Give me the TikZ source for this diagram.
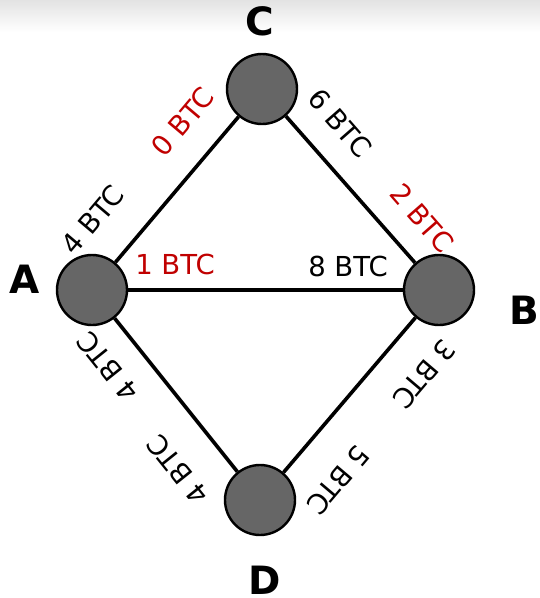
\documentclass[tikz,border=0pt]{standalone}
\usepackage{fontspec}
\setmainfont{DejaVu Sans}
\newfontfamily\heavyfont{DejaVu Sans}[BoldFont={DejaVu Sans Bold}]
\definecolor{nodegray}{HTML}{666666}
\definecolor{btcred}{HTML}{C00000}
\begin{document}
\begin{tikzpicture}[x=1pt,y=-1pt,
  peer/.style={circle,draw=black,line width=2.4pt,fill=nodegray,minimum size=70pt,inner sep=0pt},
  chan/.style={line width=3.6pt,black},
  amt/.style={font=\fontsize{27.5}{30}\selectfont,inner sep=0pt,text=black},
  amtred/.style={amt,text=btcred},
  peername/.style={font=\heavyfont\bfseries\fontsize{39}{40}\selectfont,inner sep=0pt}]
\useasboundingbox (0,0) rectangle (540,598);
\shade[top color=gray!22,bottom color=white] (0,0) rectangle (540,32);
\node[peer] (A) at (92,290) {};
\node[peer] (C) at (262,89) {};
\node[peer] (B) at (439,290) {};
\node[peer] (D) at (260,500) {};
\draw[chan] (A) -- (C);
\draw[chan] (C) -- (B);
\draw[chan] (A) -- (B);
\draw[chan] (A) -- (D);
\draw[chan] (D) -- (B);
\node[peername] (lC) at (260,21) {C};
\node[peername] (lA) at (25,279) {A};
\node[peername] (lB) at (524,310) {B};
\node[peername] (lD) at (265,580) {D};
% A--C
\node[amt,rotate=49.8] (ac1) at (93,220) {4 BTC};
\node[amtred,rotate=49.8] (ac2) at (183,122) {0 BTC};
% C--B
\node[amt,rotate=-48.8] (cb1) at (340,123) {6 BTC};
\node[amtred,rotate=-48.8] (cb2) at (422,218) {2 BTC};
% A--B
\node[amtred] (ab1) at (175,264) {1 BTC};
\node[amt] (ab2) at (348,266) {8 BTC};
% A--D
\node[amt,rotate=128.7] (ad1) at (108,367) {4 BTC};
\node[amt,rotate=128.7] (ad2) at (178,470) {4 BTC};
% D--B
\node[amt,rotate=-130.3] (db1) at (424,374) {3 BTC};
\node[amt,rotate=-130.3] (db2) at (338,480) {5 BTC};
\end{tikzpicture}
\end{document}
